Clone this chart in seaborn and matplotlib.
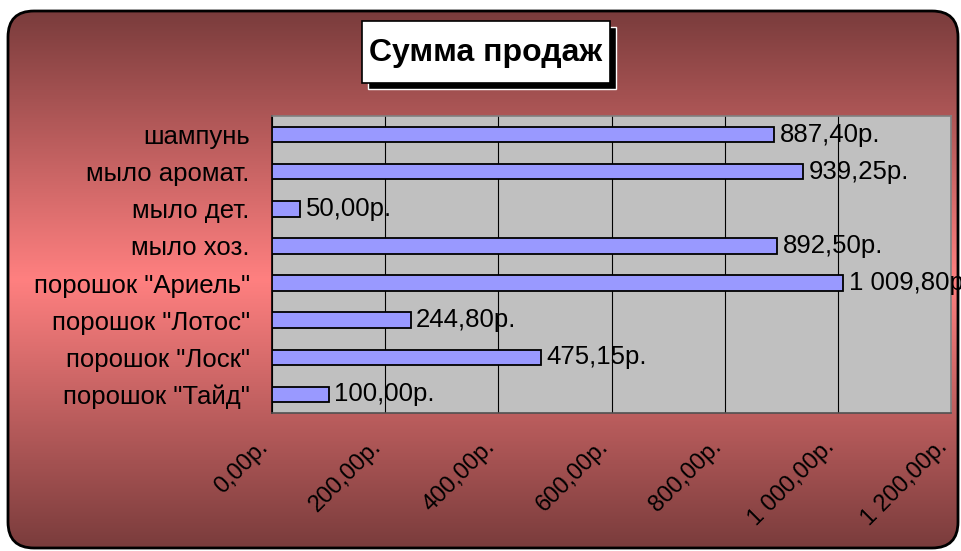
import matplotlib
matplotlib.use("Agg")
import matplotlib.pyplot as plt
import matplotlib.transforms as mtransforms
from matplotlib.patches import FancyBboxPatch, Rectangle
import seaborn as sns
import numpy as np

# chart data
categories = ['шампунь', 'мыло аромат.', 'мыло дет.', 'мыло хоз.',
              'порошок "Ариель"', 'порошок "Лотос"', 'порошок "Лоск"', 'порошок "Тайд"']
sales = [887.40, 939.25, 50.00, 892.50, 1009.80, 244.80, 475.15, 100.00]
x_ticks = [0, 200, 400, 600, 800, 1000, 1200]
title = "Сумма продаж"

sns.set_style("white")
plt.rcParams['font.family'] = ['Liberation Sans', 'DejaVu Sans']
plt.rcParams['text.color'] = 'black'
plt.rcParams['xtick.color'] = 'black'
plt.rcParams['ytick.color'] = 'black'
plt.rcParams['axes.labelcolor'] = 'black'


def rub(v):
    # 1009.8 -> "1 009,80р."
    return f"{v:,.2f}".replace(",", " ").replace(".", ",") + "р."


W, H = 961, 551
fig = plt.figure(figsize=(W / 100, H / 100), dpi=100)
fig.patch.set_facecolor('white')

# background: rounded frame with vertical dark-pink-dark gradient
bg = fig.add_axes([0, 0, 1, 1], zorder=-10)
bg.set_xlim(0, W)
bg.set_ylim(H, 0)
bg.axis('off')
edge = np.array([122, 60, 60]) / 255
mid = np.array([255, 128, 128]) / 255
t = np.abs(np.linspace(-1, 1, 300))[:, None]
grad = (edge * t + mid * (1 - t))[:, None, :].repeat(2, axis=1)
frame = FancyBboxPatch((8, 11), 950, 537, boxstyle="round,pad=0,rounding_size=26",
                       facecolor='none', edgecolor='black', lw=2, zorder=3)
bg.add_patch(frame)
img = bg.imshow(grad, extent=[8, 958, 548, 11], aspect='auto', zorder=1)
img.set_clip_path(frame)

# title box with shadow
bg.add_patch(Rectangle((368, 27), 248, 62, facecolor='black', zorder=4))
bg.add_patch(Rectangle((362, 21), 248, 62, facecolor='white', edgecolor='black', lw=1.2, zorder=5))
bg.text(486, 53, title, ha='center', va='center', fontsize=23, fontweight='bold',
        color='black', zorder=6)

# plot area
ax = fig.add_axes([272 / W, 1 - 413 / H, (951 - 272) / W, (413 - 116) / H])
ax.set_facecolor('#C0C0C0')
sns.barplot(x=sales, y=categories, orient='h', color='#9999FF', saturation=1,
            edgecolor='black', linewidth=1.3, width=0.42, ax=ax, zorder=3)
ax.set_xlim(0, 1200)
ax.set_ylim(7.5, -0.5)
ax.set_xticks(x_ticks)
ax.set_xticklabels([rub(v) for v in x_ticks], rotation=45, ha='right', va='center',
                   rotation_mode='anchor', fontsize=17)
ax.tick_params(axis='x', direction='out', length=5, width=1, color='black', pad=17)
ax.tick_params(axis='y', which='major', length=0, pad=16, labelsize=18.5)
ax.set_yticks(np.arange(-0.5, len(categories), 1), minor=True)
ax.tick_params(axis='y', which='minor', direction='out', length=5, width=1, color='black')
ax.set_xlabel('')
ax.set_ylabel('')
ax.xaxis.grid(True, color='black', lw=0.8, zorder=0)
ax.set_axisbelow(True)
for s in ['top', 'right']:
    ax.spines[s].set_color('#808080')
    ax.spines[s].set_linewidth(1.2)
ax.spines['bottom'].set_color('#505050')
ax.spines['bottom'].set_linewidth(1.2)
ax.spines['left'].set_color('black')
ax.spines['left'].set_linewidth(1.2)

# shift rotated labels slightly left (after tick_params, which resets transforms)
offset = mtransforms.ScaledTranslation(-7 / 100, 0, fig.dpi_scale_trans)
for lab in ax.get_xticklabels():
    lab.set_transform(lab.get_transform() + offset)

ax.bar_label(ax.containers[0], labels=[rub(v) for v in sales], padding=4,
             fontsize=18.5, color='black', clip_on=False)

fig.savefig('out.png', dpi=100)
